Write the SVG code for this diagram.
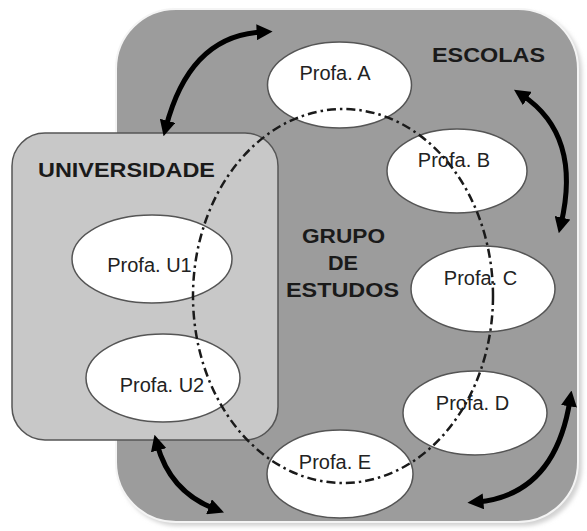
<svg xmlns="http://www.w3.org/2000/svg" width="587" height="531" viewBox="0 0 587 531">
  <defs>
    <style>
      .node ellipse { fill: #ffffff; stroke: #555555; stroke-width: 1.5; }
      .label { font-family: "Liberation Sans", Arial, sans-serif; font-size: 20px; fill: #222222; text-anchor: middle; }
      .title { font-family: "Liberation Sans", Arial, sans-serif; font-size: 21px; font-weight: bold; fill: #1a1a1a; text-anchor: middle; }
      .arrow { fill: none; stroke: #000000; stroke-width: 5; stroke-linecap: round; marker-start: url(#head); marker-end: url(#head); }
      .group-ring { fill: none; stroke: #1a1a1a; stroke-width: 2.5; stroke-dasharray: 9 4 2.5 4; }
    </style>
    <marker id="head" viewBox="0 0 10 10" refX="4" refY="5" markerWidth="16" markerHeight="16" markerUnits="userSpaceOnUse" orient="auto-start-reverse">
      <path d="M0,0 L10,5 L0,10 z" fill="#000000"/>
    </marker>
    <filter id="soft" x="-5%" y="-5%" width="110%" height="110%">
      <feGaussianBlur stdDeviation="2"/>
    </filter>
  </defs>

  <rect width="587" height="531" fill="#ffffff"/>

  <g id="escolas">
    <rect x="119" y="12" width="463" height="514" rx="60" fill="#d2d2d2" filter="url(#soft)"/>
    <rect x="116" y="9" width="462" height="513" rx="60" fill="#9c9c9c" stroke="#f4f4f4" stroke-width="2"/>
    <text class="title" x="488.5" y="62" textLength="113" lengthAdjust="spacingAndGlyphs">ESCOLAS</text>
  </g>

  <g id="universidade">
    <rect x="12" y="133" width="266" height="307" rx="33" fill="#c8c8c8" stroke="#555555" stroke-width="1.5"/>
    <text class="title" x="126.5" y="177" textLength="177" lengthAdjust="spacingAndGlyphs">UNIVERSIDADE</text>
  </g>

  <g id="profa-a" class="node">
    <ellipse cx="339.5" cy="85" rx="72" ry="43"/>
    <text class="label" x="335" y="80">Profa. A</text>
  </g>
  <g id="profa-b" class="node">
    <ellipse cx="457" cy="171" rx="70" ry="42"/>
    <text class="label" x="454" y="167">Profa. B</text>
  </g>
  <g id="profa-c" class="node">
    <ellipse cx="483" cy="289" rx="72" ry="43"/>
    <text class="label" x="480.5" y="285">Profa. C</text>
  </g>
  <g id="profa-d" class="node">
    <ellipse cx="475" cy="413" rx="72" ry="42"/>
    <text class="label" x="472.5" y="410">Profa. D</text>
  </g>
  <g id="profa-e" class="node">
    <ellipse cx="340" cy="474" rx="73" ry="44"/>
    <text class="label" x="335" y="469">Profa. E</text>
  </g>
  <g id="profa-u1" class="node">
    <ellipse cx="152" cy="259" rx="80" ry="44"/>
    <text class="label" x="149.5" y="272">Profa. U1</text>
  </g>
  <g id="profa-u2" class="node">
    <ellipse cx="163" cy="378" rx="77" ry="44"/>
    <text class="label" x="162" y="392">Profa. U2</text>
  </g>

  <g id="grupo-de-estudos">
    <ellipse class="group-ring" cx="343" cy="296" rx="150" ry="187"/>
    <text class="title" x="343.5" y="243" textLength="83" lengthAdjust="spacingAndGlyphs">GRUPO</text>
    <text class="title" x="343" y="270" textLength="30" lengthAdjust="spacingAndGlyphs">DE</text>
    <text class="title" x="342.5" y="297" textLength="113" lengthAdjust="spacingAndGlyphs">ESTUDOS</text>
  </g>

  <g id="connectors">
    <path class="arrow" d="M166,127 Q190,35 263,32"/>
    <path class="arrow" d="M522,95 Q582,135 561,224"/>
    <path class="arrow" d="M157,444 Q170,492 215,509"/>
    <path class="arrow" d="M570,400 Q555,495 477,502"/>
  </g>
</svg>
